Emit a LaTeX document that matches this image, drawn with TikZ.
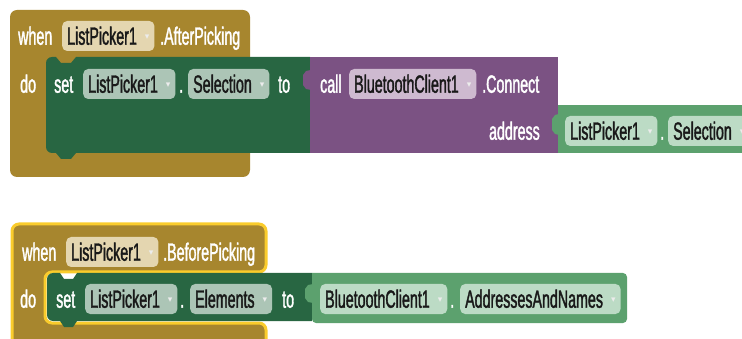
\documentclass[tikz,border=0pt]{standalone}
\usepackage{fontspec}
\setmainfont{Liberation Sans}[FakeStretch=0.57,FakeBold=1.4]
\newfontfamily\symfont{DejaVu Sans}
\definecolor{evgold}{RGB}{167,134,46}
\definecolor{selyel}{RGB}{250,204,44}
\definecolor{setgreen}{RGB}{40,102,66}
\definecolor{callpurple}{RGB}{123,82,131}
\definecolor{getgreen}{RGB}{92,161,110}
\definecolor{fbeige}{RGB}{228,214,176}
\definecolor{fsetter}{RGB}{172,197,182}
\definecolor{fpurple}{RGB}{206,186,208}
\definecolor{fgetter}{RGB}{188,219,197}
\newcommand\dd{\hspace{8pt}\raisebox{5pt}{\symfont\fontsize{9}{9}\selectfont\textcolor{white!85!gray}{▾}}\hspace{2pt}}
\begin{document}
\begin{tikzpicture}[x=1pt,y=-1pt,
  txt/.style={anchor=west, inner sep=0pt, text height=17.5pt, text depth=0pt,
              font=\fontsize{25}{25}\selectfont, text=white},
  fld/.style={txt, rounded corners=5pt, inner xsep=5pt, minimum height=30pt, text=black!90},
]
\useasboundingbox (0,0) rectangle (742,339);
\clip (0,0) rectangle (742,339);

% ---------- when ListPicker1.AfterPicking ----------
\fill[evgold, rounded corners=7pt] (10,10) rectangle (250,177);
% set ListPicker1.Selection (statement block with notch and tab)
\fill[setgreen] (56,57) -- (61,63) -- (71,63) -- (76,57) -- (310,57) -- (310,153)
  -- (76,153) -- (71,159) -- (61,159) -- (56,153)
  [rounded corners=6pt] -- (46,153) -- (46,57) [sharp corners] -- cycle;
% call BluetoothClient1.Connect
\fill[callpurple] (310,57) rectangle (558,153);
\fill[callpurple] (311,70) -- (306,71) -- (303,75) -- (303,85) -- (306,89) -- (311,90) -- cycle;
% ListPicker1.Selection getter
\fill[getgreen] (558,105) rectangle (750,153);
\fill[getgreen] (559,114) -- (555,115) -- (552,119) -- (552,130) -- (555,134) -- (559,135) -- cycle;

\node[txt] (w1) at (18,36) {when};
\node[fld, fill=fbeige] (lp1) at (62,36) {ListPicker1\dd};
\node[txt] (ev1) at (160,36) {.AfterPicking};
\node[txt] (do1) at (20,84) {do};
\node[txt] (set1) at (54,84) {set};
\node[fld, fill=fsetter] (lp2) at (83,84) {ListPicker1\dd};
\node[txt] (dot1) at (179,84) {.};
\node[fld, fill=fsetter] (sel1) at (188,84) {Selection\dd};
\node[txt] (to1) at (278,84) {to};
\node[txt] (call1) at (320,84) {call};
\node[fld, fill=fpurple] (bt1) at (349,84) {BluetoothClient1\dd};
\node[txt] (con1) at (482,84) {.Connect};
\node[txt, anchor=east] (addr1) at (540,131) {address};
\node[fld, fill=fgetter] (lp3) at (565,131) {ListPicker1\dd};
\node[txt] (dot2) at (660,131) {.};
\node[fld, fill=fgetter] (sel2) at (668,131) {Selection\dd};

% ---------- when ListPicker1.BeforePicking (selected) ----------
\filldraw[fill=evgold, draw=selyel, line width=3pt, rounded corners=7pt]
  (12,224) -- (266,224) -- (266,272) -- (45,272) -- (45,323) -- (266,323)
  -- (266,352) -- (12,352) -- cycle;
% set ListPicker1.Elements
\fill[setgreen] (60,273) -- (64,279) -- (73,279) -- (77,273) -- (312,273) -- (312,321)
  -- (77,321) -- (73,327) -- (64,327) -- (60,321)
  [rounded corners=6pt] -- (47,321) -- (47,273) [sharp corners] -- cycle;
% BluetoothClient1.AddressesAndNames getter
\fill[getgreen, rounded corners=4pt] (312,273) -- (627,273) -- (627,323) -- (312,323) [sharp corners] -- cycle;
\fill[getgreen] (313,284) -- (308,285) -- (305,289) -- (305,298) -- (308,302) -- (313,303) -- cycle;

\node[txt] (w2) at (22,252) {when};
\node[fld, fill=fbeige] (lp4) at (66,252) {ListPicker1\dd};
\node[txt] (ev2) at (163,252) {.BeforePicking};
\node[txt] (do2) at (20,299) {do};
\node[txt] (set2) at (56,299) {set};
\node[fld, fill=fsetter] (lp5) at (85,299) {ListPicker1\dd};
\node[txt] (dot3) at (180,299) {.};
\node[fld, fill=fsetter] (el2) at (190,299) {Elements\dd};
\node[txt] (to2) at (282,299) {to};
\node[fld, fill=fgetter] (bt2) at (320,299) {BluetoothClient1\dd};
\node[txt] (dot4) at (450,299) {.};
\node[fld, fill=fgetter] (an2) at (460,299) {AddressesAndNames\dd};
\end{tikzpicture}
\end{document}
